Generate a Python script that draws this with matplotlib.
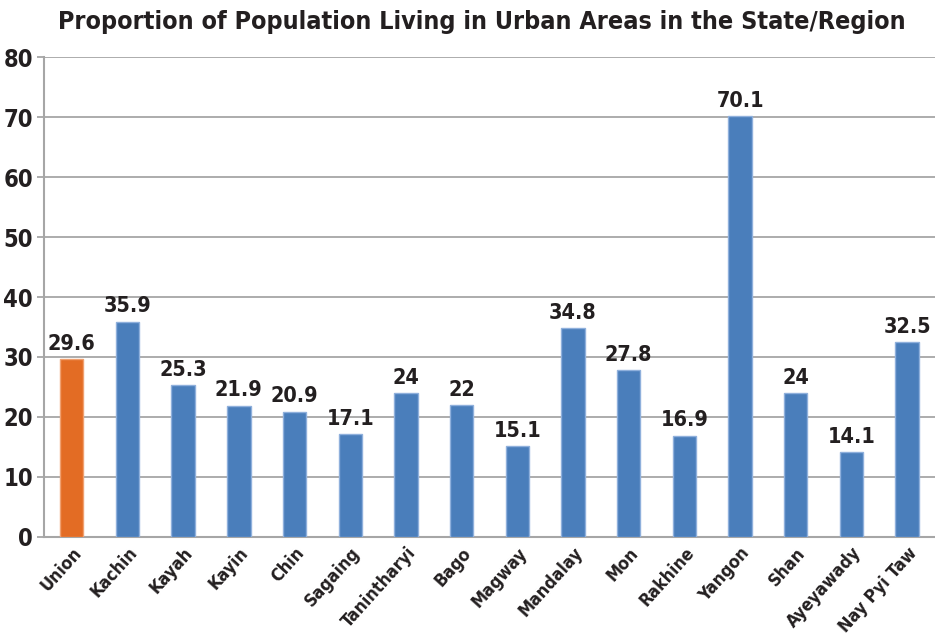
import matplotlib.pyplot as plt
from matplotlib import font_manager as fm
import numpy as np

regions = ['Union', 'Kachin', 'Kayah', 'Kayin', 'Chin', 'Sagaing', 'Tanintharyi', 'Bago',
           'Magway', 'Mandalay', 'Mon', 'Rakhine', 'Yangon', 'Shan', 'Ayeyawady', 'Nay Pyi Taw']
urban_pct = [29.6, 35.9, 25.3, 21.9, 20.9, 17.1, 24, 22, 15.1, 34.8, 27.8, 16.9, 70.1, 24, 14.1, 32.5]
value_labels = ['29.6', '35.9', '25.3', '21.9', '20.9', '17.1', '24', '22',
                '15.1', '34.8', '27.8', '16.9', '70.1', '24', '14.1', '32.5']

# look for a narrow bold face (the original uses a condensed font)
narrow = [f for f in fm.fontManager.ttflist
          if any(k in (f.fname + f.name).lower() for k in ('narrow', 'condensed', 'cond'))]
narrow_bold = [f for f in narrow if 'bold' in f.fname.lower() and 'italic' not in f.fname.lower()
               and 'oblique' not in f.fname.lower() and 'extra' not in f.fname.lower()]
found = ''
if narrow_bold:
    found = narrow_bold[0].fname
    def fp(size):
        return fm.FontProperties(fname=found, size=size)
else:
    def fp(size):
        return fm.FontProperties(family='DejaVu Sans', weight='bold', size=size * 0.85)

dark = '#231f20'
grid_c = '#a6a6a6'

fig = plt.figure(figsize=(9.35, 6.37), dpi=100)
ax = fig.add_axes([0.047, 0.157, 0.953, 0.7535])

x = np.arange(len(regions))
colors = ['#e36c24'] + ['#4a7ebb'] * (len(regions) - 1)
edges = ['#f0a070'] + ['#8fb0dc'] * (len(regions) - 1)
ax.bar(x, urban_pct, width=0.42, color=colors, edgecolor=edges, linewidth=1, zorder=3)

for xi, v, lab in zip(x, urban_pct, value_labels):
    ax.text(xi, v + 0.9, lab, ha='center', va='bottom', fontproperties=fp(15.5), color=dark)

ax.set_xlim(-0.5, len(regions) - 0.5)
ax.set_ylim(0, 80)
ax.set_yticks(range(0, 81, 10))
ax.yaxis.grid(True, color=grid_c, linewidth=1.3, zorder=0)
ax.set_axisbelow(True)

ax.set_xticks(x)
ax.set_xticklabels(regions, rotation=48, ha='right', rotation_mode='anchor', color=dark)
for t in ax.get_xticklabels():
    t.set_fontproperties(fp(12.8))
ax.set_yticklabels([str(v) for v in range(0, 81, 10)], color=dark)
for t in ax.get_yticklabels():
    t.set_fontproperties(fp(17))
ax.tick_params(axis='x', length=0, pad=5)
ax.tick_params(axis='y', length=5, color=grid_c, width=1.3, pad=3)

for s in ['top', 'right']:
    ax.spines[s].set_visible(False)
for s in ['left', 'bottom']:
    ax.spines[s].set_color(grid_c)
    ax.spines[s].set_linewidth(1.5)

fig.suptitle('Proportion of Population Living in Urban Areas in the State/Region',
             x=0.515, y=0.985, color=dark, fontproperties=fp(18))

plt.savefig('out.png', dpi=100)
